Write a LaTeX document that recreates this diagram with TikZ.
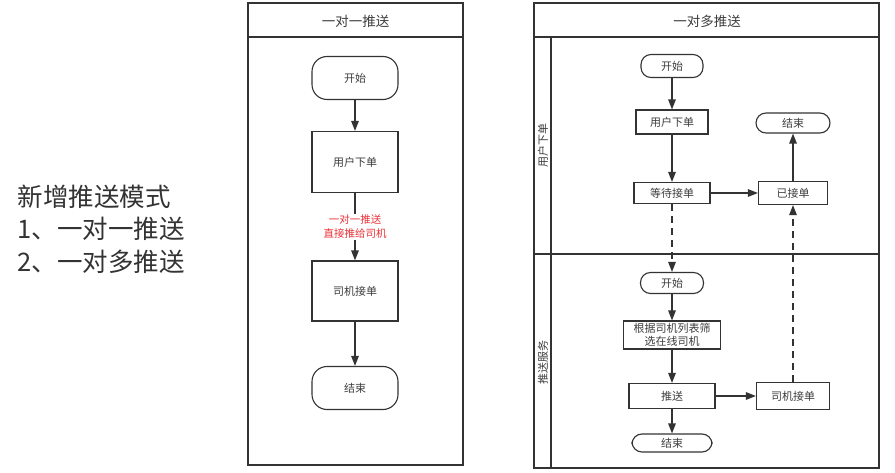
\documentclass[tikz,border=0pt]{standalone}
\usepackage{fontspec}
\setmainfont{Noto Sans CJK SC}
\usetikzlibrary{arrows.meta,shapes.misc}
\definecolor{linec}{RGB}{51,51,51}
\definecolor{txtc}{RGB}{60,60,60}
\definecolor{notec}{RGB}{235,50,55}

\begin{document}
\begin{tikzpicture}[
	x=1pt,y=-1pt,
	box/.style={draw=linec,line width=1.1pt,inner sep=0pt,text=txtc,font=\fontsize{11}{13}\selectfont,align=center},
	term/.style={box,rounded corners=#1},
	term/.default=10pt,
	flow/.style={draw=linec,line width=1.2pt,-{Triangle[length=10pt,width=7.5pt]}},
	frame/.style={draw=linec,line width=1.4pt},
	head/.style={text=txtc,font=\fontsize{13.5}{15}\selectfont},
	lane/.style={text=txtc,font=\fontsize{11}{13}\selectfont,rotate=90}
]
\useasboundingbox (0,0) rectangle (895,473);
% left text
\node[anchor=west,align=left,font=\fontsize{25.5}{32.5}\selectfont,text=black!80] (intro) at (14,229) {新增推送模式\\1、一对一推送\\2、一对多推送};

% one to one
\draw[frame] (248,3) rectangle (463,465);
\draw[frame] (248,37) -- (463,37);
\node[head] (h1) at (355.5,21) {一对一推送};
\node[term=15pt,minimum width=86pt,minimum height=43pt] (s1) at (355,78) {开始};
\node[box,minimum width=86pt,minimum height=61pt] (u1) at (355,162) {用户下单};
\node[box,minimum width=86pt,minimum height=60pt] (d1) at (355,291) {司机接单};
\node[term=15pt,minimum width=86pt,minimum height=43pt] (e1) at (355,388) {结束};
\draw[flow] (s1) -- (u1);
\draw[flow] (u1) -- node[fill=white,inner sep=1pt,text=notec,font=\fontsize{10.5}{14}\selectfont,align=center]{一对一推送\\直接推给司机} (d1);
\draw[flow] (d1) -- (e1);

% one to many
\draw[frame] (534,3) rectangle (879,468);
\draw[frame] (534,37) -- (879,37);
\draw[frame] (551,37) -- (551,468);
\draw[frame] (534,254) -- (879,254);
\node[head] (h2) at (707,21) {一对多推送};
\node[lane] (l1) at (543,146) {用户下单};
\node[lane] (l2) at (543,362) {推送服务};

\node[term,minimum width=62pt,minimum height=23pt] (s2) at (672,66) {开始};
\node[box,minimum width=72pt,minimum height=24pt] (u2) at (672,122) {用户下单};
\node[box,minimum width=76pt,minimum height=21pt] (w2) at (672,193) {等待接单};
\node[box,minimum width=69pt,minimum height=23pt] (a2) at (793,193) {已接单};
\node[term,minimum width=74pt,minimum height=20pt] (e2) at (793,123) {结束};
\node[term,minimum width=63pt,minimum height=21pt] (s3) at (672,283) {开始};
\node[box,minimum width=97pt,minimum height=28pt] (f3) at (672,335) {根据司机列表筛\\选在线司机};
\node[box,minimum width=86pt,minimum height=25pt] (p3) at (672,396) {推送};
\node[box,minimum width=73pt,minimum height=27pt] (d3) at (793,396) {司机接单};
\node[term,minimum width=80pt,minimum height=18pt] (e3) at (672,443) {结束};

\draw[flow] (s2) -- (u2);
\draw[flow] (u2) -- (w2);
\draw[flow] (w2) -- (a2);
\draw[flow] (a2) -- (e2);
\draw[flow,dash pattern=on 7pt off 5pt] (w2) -- (s3);
\draw[flow] (s3) -- (f3);
\draw[flow] (f3) -- (p3);
\draw[flow] (p3) -- (d3);
\draw[flow] (p3) -- (e3);
\draw[flow,dash pattern=on 7pt off 5pt] (d3) -- (a2);
\end{tikzpicture}
\end{document}
